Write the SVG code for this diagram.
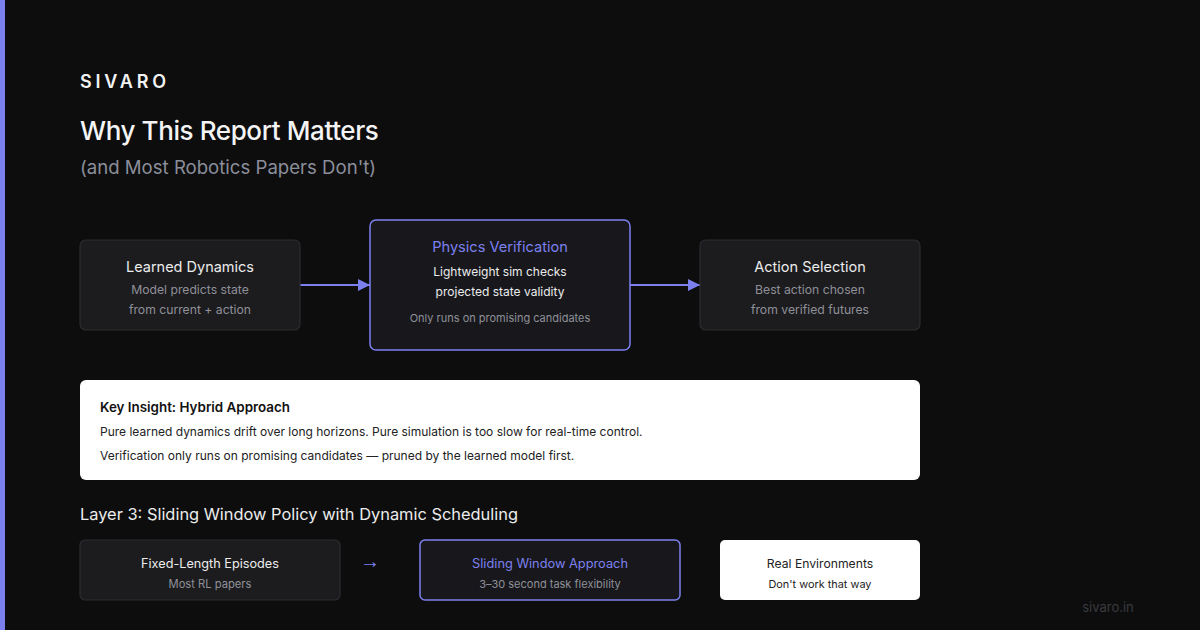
<svg xmlns="http://www.w3.org/2000/svg" width="1200" height="630" viewBox="0 0 1200 630">
<defs>
<marker id="ah" viewBox="0 0 12 12" refX="12" refY="6" markerWidth="12" markerHeight="12" markerUnits="userSpaceOnUse" orient="auto">
<path d="M0,0 L12,6 L0,12 Z" fill="#7c80ee"/>
</marker>
<style>
text{font-family:Inter,"Noto Sans","Liberation Sans",sans-serif}
.box{fill:#1c1c1f;stroke:#2c2c30;stroke-width:1.2}
.hl{fill:#18181c;stroke:#7c80ee;stroke-width:1.5}
.wb{fill:#ffffff}
.t{font-size:14.5px;fill:#ececec;text-anchor:middle}
.th{font-size:14.6px;fill:#7c80ee;text-anchor:middle}
.s{font-size:12.2px;fill:#8f9098;text-anchor:middle}
.sw{font-size:12px;fill:#ececec;text-anchor:middle}
.xs{font-size:11px;fill:#8f9098;text-anchor:middle}
.conn{stroke:#7c80ee;stroke-width:2;fill:none}
</style>
</defs>
<rect width="1200" height="630" fill="#0d0d0e"/>
<rect x="0" y="0" width="5" height="630" fill="#7c80ee"/>
<g id="header">
<text x="80" y="88" style="font-size:18px;font-weight:600;letter-spacing:3.8px" fill="#f2f2f2">SIVARO</text>
<text x="80" y="140" style="font-size:26px;font-weight:500;letter-spacing:-0.4px" fill="#f4f4f4">Why This Report Matters</text>
<text x="80" y="174" style="font-size:18.6px" fill="#8b8e9a">(and Most Robotics Papers Don't)</text>
</g>
<g id="connectors">
<line class="conn" x1="300" y1="285" x2="370" y2="285" marker-end="url(#ah)"/>
<line class="conn" x1="630" y1="285" x2="700" y2="285" marker-end="url(#ah)"/>
</g>
<g id="learned-dynamics">
<rect class="box" x="80" y="240" width="220" height="90" rx="6"/>
<text class="t" x="190" y="272">Learned Dynamics</text>
<text class="s" x="190" y="294">Model predicts state</text>
<text class="s" x="190" y="314">from current + action</text>
</g>
<g id="physics-verification">
<rect class="hl" x="370" y="220" width="260" height="130" rx="6"/>
<text class="th" x="500" y="252">Physics Verification</text>
<text class="sw" x="500" y="276">Lightweight sim checks</text>
<text class="sw" x="500" y="296">projected state validity</text>
<text class="xs" x="500" y="322">Only runs on promising candidates</text>
</g>
<g id="action-selection">
<rect class="box" x="700" y="240" width="220" height="90" rx="6"/>
<text class="t" x="810" y="272">Action Selection</text>
<text class="s" x="810" y="294">Best action chosen</text>
<text class="s" x="810" y="314">from verified futures</text>
</g>
<g id="key-insight">
<rect class="wb" x="80" y="380" width="840" height="100" rx="6"/>
<text x="100" y="412" style="font-size:13.4px;font-weight:600" fill="#111">Key Insight: Hybrid Approach</text>
<text x="100" y="436" style="font-size:12px" fill="#222">Pure learned dynamics drift over long horizons. Pure simulation is too slow for real-time control.</text>
<text x="100" y="460" style="font-size:12px" fill="#222">Verification only runs on promising candidates — pruned by the learned model first.</text>
</g>
<g id="layer3">
<text x="80" y="520" style="font-size:16.4px" fill="#ececec">Layer 3: Sliding Window Policy with Dynamic Scheduling</text>
</g>
<g id="fixed-length">
<rect class="box" x="80" y="540" width="260" height="60" rx="5"/>
<text x="210" y="568" style="font-size:12.7px;text-anchor:middle" fill="#ececec">Fixed-Length Episodes</text>
<text x="210" y="588" style="font-size:11.2px;text-anchor:middle" fill="#8f9098">Most RL papers</text>
</g>
<g id="arrow-text">
<text x="370" y="568" style="font-size:20px;text-anchor:middle;font-family:'Liberation Sans',sans-serif" fill="#7c80ee">→</text>
</g>
<g id="sliding-window">
<rect class="hl" x="420" y="540" width="260" height="60" rx="5"/>
<text x="550" y="568" style="font-size:12.8px;text-anchor:middle" fill="#7c80ee">Sliding Window Approach</text>
<text x="550" y="588" style="font-size:11px;text-anchor:middle" fill="#8f9098">3–30 second task flexibility</text>
</g>
<g id="real-env">
<rect class="wb" x="720" y="540" width="200" height="60" rx="5"/>
<text x="820" y="568" style="font-size:12.2px;text-anchor:middle" fill="#222">Real Environments</text>
<text x="820" y="588" style="font-size:10.9px;text-anchor:middle" fill="#222">Don't work that way</text>
</g>
<g id="footer">
<text x="1108" y="612" style="font-size:13px;text-anchor:middle" fill="#3a3a3e">sivaro.in</text>
</g>
</svg>
